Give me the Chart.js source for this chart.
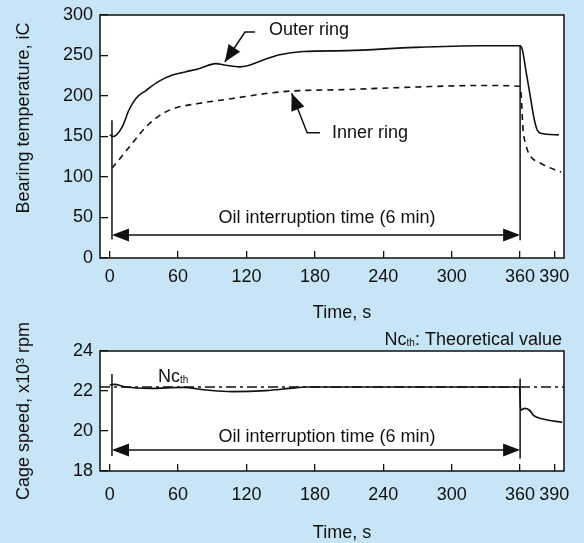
<!DOCTYPE html>
<html>
<head>
<meta charset="utf-8">
<script src="https://cdn.jsdelivr.net/npm/chart.js@4.4.1/dist/chart.umd.min.js"></script>
<style>
body { margin: 0; background: #c8e4f7; }
#wrap { position: relative; width: 584px; height: 543px; }
canvas { position: absolute; left: 0; }
</style>
</head>
<body>
<div id="wrap">
  <canvas id="temp" width="584" height="330" style="top:0"></canvas>
  <canvas id="speed" width="584" height="243" style="top:300px"></canvas>
</div>
<script>
// values
const xTicks = [0, 60, 120, 180, 240, 300, 360, 390];
const tempTicks = [0, 50, 100, 150, 200, 250, 300];
const speedTicks = [18, 20, 22, 24];

const outerTime = [0, 3, 11, 17, 23, 32, 43, 55, 67, 79, 93, 102, 114, 120, 134, 149, 170, 208, 267, 325, 360, 362, 365, 369, 372, 375, 378, 394];
const outerTemp = [152, 150, 162, 183, 197, 207, 218, 226, 230, 234, 240, 238, 236, 237, 244, 251, 255, 256, 260, 262, 262, 257, 232, 199, 174, 158, 154, 152];

const innerTime = [2, 8, 20, 32, 44, 55, 79, 108, 137, 158, 208, 267, 325, 359, 361, 362.5, 365, 368, 378, 396];
const innerTemp = [111, 121, 142, 162, 176, 184, 191, 197, 203, 206, 208, 211, 213, 212, 200, 160, 140, 128, 117, 106];

const cageTime = [0, 4, 14, 35, 64, 84, 108, 137, 158, 172, 200, 260, 320, 359.5, 360.5, 364, 368, 372, 380, 397];
const cageSpeed = [22.3, 22.33, 22.2, 22.13, 22.18, 22.05, 21.97, 22.02, 22.13, 22.2, 22.2, 22.2, 22.2, 22.2, 21.05, 21.13, 21.05, 20.77, 20.6, 20.43];

const theoryTime = [-8.5, 398.5];
const theorySpeed = [22.2, 22.2];

const oilStart = 2;
const oilEnd = 360;

const FONT = '"Liberation Sans", Arial, Helvetica, sans-serif';
const INK = '#111';

function pts(xs, ys) {
    return xs.map((x, i) => ({ x: x, y: ys[i] }));
}

function head(ctx, x1, y1, x2, y2, len, w) {
    const a = Math.atan2(y2 - y1, x2 - x1);
    const bx = x2 - len * Math.cos(a), by = y2 - len * Math.sin(a);
    ctx.beginPath();
    ctx.moveTo(x2, y2);
    ctx.lineTo(bx + w * Math.sin(a), by - w * Math.cos(a));
    ctx.lineTo(bx - w * Math.sin(a), by + w * Math.cos(a));
    ctx.closePath();
    ctx.fill();
}

// white plot area and black frame
const frame = {
    id: 'frame',
    beforeDraw(chart) {
        const { ctx, chartArea: a } = chart;
        ctx.save();
        ctx.fillStyle = '#fff';
        ctx.fillRect(a.left, a.top, a.width, a.height);
        ctx.restore();
    },
    afterDraw(chart) {
        const { ctx, chartArea: a } = chart;
        ctx.save();
        ctx.strokeStyle = INK;
        ctx.lineWidth = 1.5;
        ctx.strokeRect(a.left, a.top, a.width, a.height);
        ctx.restore();
    }
};

// interruption markers, callouts and titles
const notes = {
    id: 'notes',
    afterDatasetsDraw(chart, args, o) {
        const { ctx, scales: { x, y } } = chart;
        const px = v => x.getPixelForValue(v);
        const py = v => y.getPixelForValue(v);
        ctx.save();
        ctx.strokeStyle = INK;
        ctx.fillStyle = INK;
        ctx.lineWidth = 1.5;

        o.bars.forEach(b => {
            ctx.beginPath();
            ctx.moveTo(px(b[0]), py(b[1]));
            ctx.lineTo(px(b[0]), py(b[2]));
            ctx.stroke();
        });

        const ya = py(o.arrowAt);
        const xa = px(oilStart), xb = px(oilEnd);
        ctx.beginPath();
        ctx.moveTo(xa + 10, ya);
        ctx.lineTo(xb - 10, ya);
        ctx.stroke();
        head(ctx, xb, ya, xa, ya, 17, 6.5);
        head(ctx, xa, ya, xb, ya, 17, 6.5);

        (o.leaders || []).forEach(l => {
            ctx.beginPath();
            l.forEach((p, i) => i ? ctx.lineTo(px(p[0]), py(p[1])) : ctx.moveTo(px(p[0]), py(p[1])));
            ctx.stroke();
            const p1 = l[l.length - 2], p2 = l[l.length - 1];
            head(ctx, px(p1[0]), py(p1[1]), px(p2[0]), py(p2[1]), 17, 7);
        });

        ctx.font = '18px ' + FONT;
        ctx.textBaseline = 'middle';
        o.texts.forEach(t => {
            ctx.textAlign = t.align || 'center';
            ctx.fillText(t.text, t.x, t.y);
        });

        ctx.save();
        ctx.translate(o.yTitle.x, o.yTitle.y);
        ctx.rotate(-Math.PI / 2);
        ctx.textAlign = 'center';
        ctx.fillText(o.yTitle.text, 0, 0);
        ctx.restore();
        ctx.restore();
    }
};

function nc(ctx, x, y) {
    // "Nc" with a small "th" subscript, returns end x
    ctx.font = '18px ' + FONT;
    ctx.fillText('Nc', x, y);
    x += ctx.measureText('Nc').width;
    ctx.font = '10px ' + FONT;
    ctx.fillText('th', x, y + 1);
    return x + ctx.measureText('th').width;
}

const ncLabels = {
    id: 'ncLabels',
    afterDraw(chart) {
        const ctx = chart.ctx;
        ctx.save();
        ctx.fillStyle = INK;
        ctx.textAlign = 'left';
        ctx.textBaseline = 'alphabetic';
        nc(ctx, 158, 82);
        ctx.font = '18px ' + FONT;
        const tail = ': Theoretical value';
        const w = ctx.measureText('Nc').width + ctx.measureText(tail).width;
        ctx.font = '10px ' + FONT;
        const start = 562 - w - ctx.measureText('th').width;
        const end = nc(ctx, start, 45);
        ctx.font = '18px ' + FONT;
        ctx.fillText(tail, end, 45);
        ctx.restore();
    }
};

function noPad(s) {
    s.paddingTop = 0;
    s.paddingBottom = 0;
    s.paddingLeft = 0;
    s.paddingRight = 0;
}

function xScale(pad) {
    return {
        type: 'linear',
        min: -8.5,
        max: 398.5,
        afterBuildTicks: s => { s.ticks = xTicks.map(v => ({ value: v })); },
        afterFit: s => { s.height = 72; noPad(s); },
        grid: { drawOnChartArea: false, tickLength: -7, color: INK, lineWidth: 1.3 },
        border: { display: false },
        ticks: { padding: pad, color: INK, font: { family: FONT, size: 18 } }
    };
}

function yScale(min, max, list) {
    return {
        min: min,
        max: max,
        afterBuildTicks: s => { s.ticks = list.map(v => ({ value: v })); },
        afterFit: s => { s.width = 100; noPad(s); },
        grid: { drawOnChartArea: false, tickLength: -8, color: INK, lineWidth: 1.3 },
        border: { display: false },
        ticks: { padding: 15, color: INK, font: { family: FONT, size: 18 } }
    };
}

const lineStyle = {
    borderColor: INK,
    borderWidth: 1.6,
    pointRadius: 0,
    fill: false,
    cubicInterpolationMode: 'monotone'
};

new Chart(document.getElementById('temp'), {
    type: 'line',
    data: {
        datasets: [
            Object.assign({ label: 'Outer ring', data: pts(outerTime, outerTemp) }, lineStyle),
            Object.assign({ label: 'Inner ring', data: pts(innerTime, innerTemp), borderDash: [6, 5] }, lineStyle)
        ]
    },
    options: {
        responsive: false,
        animation: false,
        layout: { padding: { top: 15, right: 20, left: 0, bottom: 0 } },
        scales: { x: xScale(15), y: yScale(0, 300, tempTicks) },
        plugins: {
            legend: { display: false },
            tooltip: { enabled: false },
            notes: {
                bars: [[oilStart, 23, 170], [oilEnd, 22, 263]],
                arrowAt: 28.4,
                leaders: [
                    [[127.5, 279], [118.7, 279], [101, 242]],
                    [[184.4, 154.7], [173.2, 154.7], [159.6, 203.3]]
                ],
                texts: [
                    { text: 'Oil interruption time (6 min)', x: 327, y: 218 },
                    { text: 'Outer ring', x: 269, y: 30, align: 'left' },
                    { text: 'Inner ring', x: 332, y: 133, align: 'left' },
                    { text: 'Time, s', x: 342, y: 313 }
                ],
                yTitle: { text: 'Bearing temperature, iC', x: 24, y: 118 }
            }
        }
    },
    plugins: [frame, notes]
});

new Chart(document.getElementById('speed'), {
    type: 'line',
    data: {
        datasets: [
            Object.assign({ label: 'Nc theoretical', data: pts(theoryTime, theorySpeed), borderDash: [10, 4, 3, 4] }, lineStyle, { borderWidth: 1.4 }),
            Object.assign({ label: 'Cage speed', data: pts(cageTime, cageSpeed) }, lineStyle)
        ]
    },
    options: {
        responsive: false,
        animation: false,
        layout: { padding: { top: 51, right: 20, left: 0, bottom: 0 } },
        scales: { x: xScale(20), y: yScale(18, 24, speedTicks) },
        plugins: {
            legend: { display: false },
            tooltip: { enabled: false },
            notes: {
                bars: [[oilStart, 18.75, 22.85], [oilEnd, 18.63, 22.63]],
                arrowAt: 19.05,
                texts: [
                    { text: 'Oil interruption time (6 min)', x: 327, y: 137 },
                    { text: 'Time, s', x: 342, y: 233 }
                ],
                yTitle: { text: 'Cage speed, x10\u00b3 rpm', x: 24, y: 111 }
            }
        }
    },
    plugins: [frame, notes, ncLabels]
});
</script>
</body>
</html>
